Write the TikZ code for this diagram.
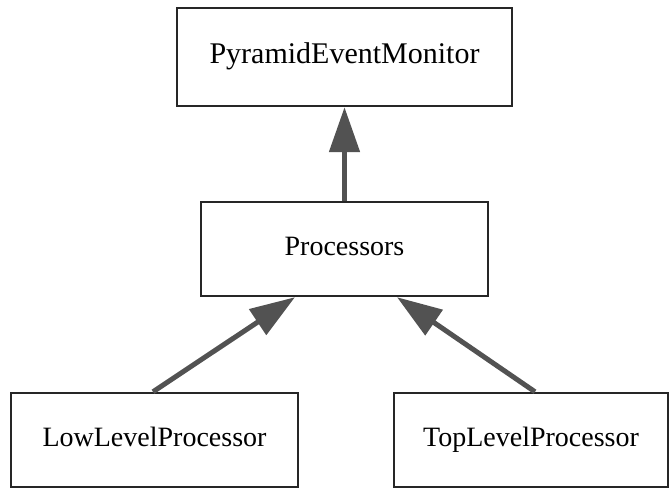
\documentclass[tikz,border=0pt]{standalone}
\usepackage{fontspec}
\setmainfont{Liberation Serif}
\usetikzlibrary{arrows.meta}
\begin{document}
\begin{tikzpicture}[x=1pt,y=-1pt,
  classbox/.style={draw=black!85, line width=2.4pt, fill=white, inner sep=0pt,
    text height=19pt, text depth=6pt,
    font=\fontsize{28}{32}\selectfont},
  inherit/.style={draw=black!68, line width=5pt,
    -{Triangle[length=45pt,width=30pt]}}]
\useasboundingbox (0,0) rectangle (670,489);
% class boxes
\node[classbox, minimum width=335pt, minimum height=98pt,
  font=\fontsize{30}{34}\selectfont] (pem) at (344.5,57) {PyramidEventMonitor};
\node[classbox, minimum width=287pt, minimum height=94pt] (proc) at (344.5,249) {Processors};
\node[classbox, minimum width=287pt, minimum height=94pt] (llp) at (154.5,440) {LowLevelProcessor};
\node[classbox, minimum width=274pt, minimum height=94pt] (tlp) at (531,440) {TopLevelProcessor};
% generalisation arrows
\draw[inherit] (proc.north) -- (proc.north |- pem.south);
\draw[inherit] ([xshift=-1.5pt]llp.north) -- ([xshift=-49.5pt]proc.south);
\draw[inherit] ([xshift=4pt]tlp.north) -- ([xshift=52.5pt]proc.south);
\end{tikzpicture}
\end{document}
